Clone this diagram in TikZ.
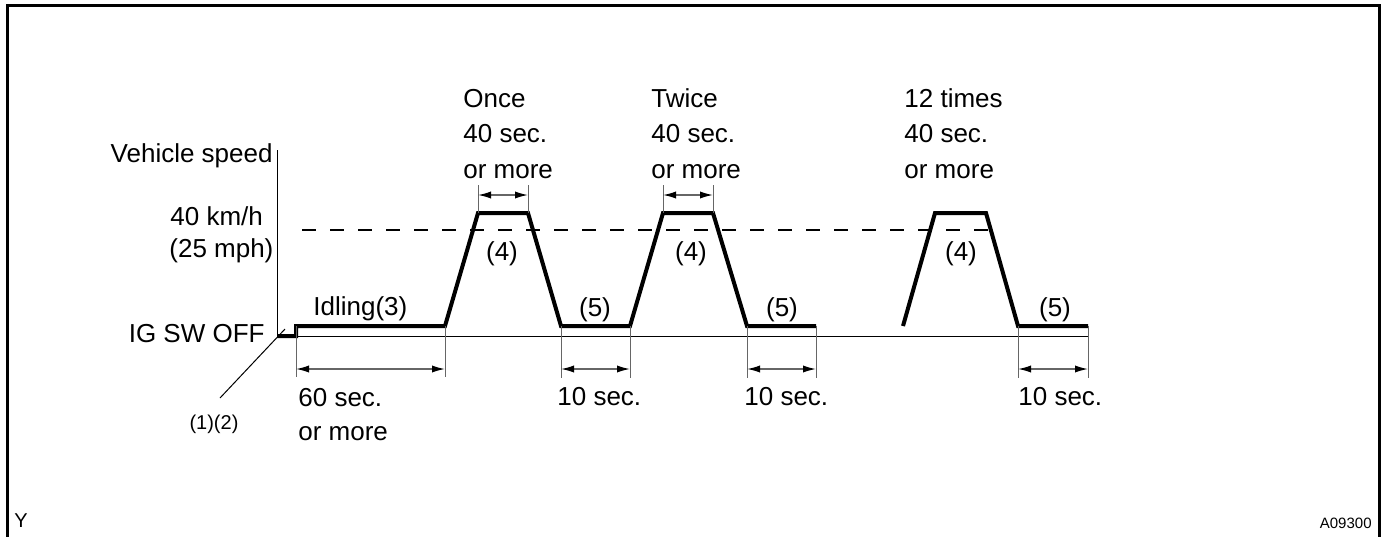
\documentclass[tikz,border=0pt]{standalone}
\usepackage{fontspec}
\setmainfont{Liberation Sans}
\usetikzlibrary{arrows.meta}
\begin{document}
\begin{tikzpicture}[x=0.5pt,y=-0.5pt,
  lbl/.style={inner sep=0pt,font=\fontsize{13}{15}\selectfont},
  small/.style={inner sep=0pt,font=\fontsize{10}{12}\selectfont},
  tiny/.style={inner sep=0pt,font=\fontsize{7.5}{9}\selectfont},
  frame/.style={line width=1.5pt},
  thin/.style={line width=0.5pt},
  profile/.style={line width=2pt,line join=miter},
  ext/.style={line width=0.5pt,draw=black!60},
  dim/.style={line width=0.7pt,draw=black!60,
    {Latex[length=6.5pt,width=3.6pt,black]}-{Latex[length=6.5pt,width=3.6pt,black]}},
  ref/.style={line width=0.7pt,dash pattern=on 7pt off 7pt}]
\useasboundingbox (0,0) rectangle (1386,536);
% frame
\draw[frame] (7,540) -- (7,5) -- (1379,5) -- (1379,540);
% axes
\coordinate (o) at (277,336);
\coordinate (ytop) at (277,150);
\coordinate (xend) at (1088,336);
\coordinate (dA) at (220,398);
\coordinate (dB) at (285,329);
\draw[thin] (ytop) -- (o) -- (xend);
\draw[thin] (dA) -- (dB);
% reference speed line
\coordinate (r1) at (302,230);
\coordinate (r2) at (992,230);
\draw[ref] (r1) -- (r2);
% speed profile
\coordinate (s0) at (296,336);
\coordinate (s1) at (296,326);
\coordinate (a0) at (445,326);
\coordinate (a1) at (478,213);
\coordinate (a2) at (528,213);
\coordinate (a3) at (561,326);
\coordinate (b0) at (630,326);
\coordinate (b1) at (663,213);
\coordinate (b2) at (713,213);
\coordinate (b3) at (747,326);
\coordinate (b4) at (816,326);
\coordinate (c0) at (903,326);
\coordinate (c1) at (935,213);
\coordinate (c2) at (986,213);
\coordinate (c3) at (1018,326);
\coordinate (c4) at (1088,326);
\draw[profile] (o) -- (s0) -- (s1) -- (a0) -- (a1) -- (a2) -- (a3) -- (b0) -- (b1) -- (b2) -- (b3) -- (b4);
\draw[profile] (c0) -- (c1) -- (c2) -- (c3) -- (c4);
% bottom dimensions
\coordinate (e1) at (296,377);
\coordinate (e2) at (445,377);
\draw[ext] (s1) -- (e1);
\draw[ext] (a0) -- (e2);
\draw[dim] (296,369) -- (445,369);
\coordinate (f1) at (561,378);
\coordinate (f2) at (630,378);
\draw[ext] (a3) -- (f1);
\draw[ext] (b0) -- (f2);
\draw[dim] (561,369) -- (630,369);
\coordinate (g1) at (747,378);
\coordinate (g2) at (816,378);
\draw[ext] (b3) -- (g1);
\draw[ext] (b4) -- (g2);
\draw[dim] (747,369) -- (816,369);
\coordinate (h1) at (1018,378);
\coordinate (h2) at (1088,378);
\draw[ext] (c3) -- (h1);
\draw[ext] (c4) -- (h2);
\draw[dim] (1018,369) -- (1088,369);
% top dimensions
\coordinate (t1) at (478,185);
\coordinate (t2) at (528,185);
\draw[ext] (a1) -- (t1);
\draw[ext] (a2) -- (t2);
\draw[dim] (478,195) -- (528,195);
\coordinate (u1) at (663,185);
\coordinate (u2) at (713,185);
\draw[ext] (b1) -- (u1);
\draw[ext] (b2) -- (u2);
\draw[dim] (663,195) -- (713,195);
% labels
\node[lbl,anchor=base east] (vs) at (273,162) {Vehicle speed};
\node[lbl,anchor=base west] (km) at (170,225) {40 km/h};
\node[lbl,anchor=base west] (mph) at (169,257) {(25 mph)};
\node[lbl,anchor=base east] (ig) at (265,342) {IG SW OFF};
\node[small,anchor=base] (n12) at (214,429) {(1)(2)};
\node[lbl,anchor=base west] (idl) at (313,315) {Idling(3)};
\node[lbl,anchor=base west] (s60a) at (298,406) {60 sec.};
\node[lbl,anchor=base west] (s60b) at (298,440) {or more};
\node[lbl,anchor=base west] (s10a) at (557,405) {10 sec.};
\node[lbl,anchor=base west] (s10b) at (744,405) {10 sec.};
\node[lbl,anchor=base west] (s10c) at (1018,405) {10 sec.};
\node[lbl,anchor=base] (q4a) at (502,260) {(4)};
\node[lbl,anchor=base] (q4b) at (691,260) {(4)};
\node[lbl,anchor=base] (q4c) at (961,260) {(4)};
\node[lbl,anchor=base] (q5a) at (595,316) {(5)};
\node[lbl,anchor=base] (q5b) at (782,316) {(5)};
\node[lbl,anchor=base] (q5c) at (1055,316) {(5)};
\node[lbl,anchor=base west] (oa) at (463,107) {Once};
\node[lbl,anchor=base west] (ob) at (463,142) {40 sec.};
\node[lbl,anchor=base west] (oc) at (463,178) {or more};
\node[lbl,anchor=base west] (wa) at (651,107) {Twice};
\node[lbl,anchor=base west] (wb) at (651,142) {40 sec.};
\node[lbl,anchor=base west] (wc) at (651,178) {or more};
\node[lbl,anchor=base west] (xa) at (904,107) {12 times};
\node[lbl,anchor=base west] (xb) at (904,142) {40 sec.};
\node[lbl,anchor=base west] (xc) at (904,178) {or more};
\node[small,anchor=base west] (yy) at (14,527) {Y};
\node[tiny,anchor=base east] (code) at (1372,528) {A09300};
\end{tikzpicture}
\end{document}
